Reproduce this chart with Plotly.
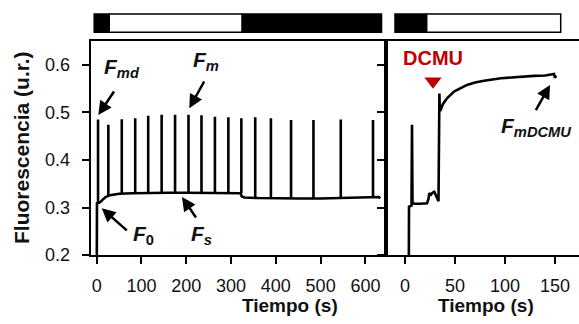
import plotly.graph_objects as go

W, H = 579, 324
FONT = "Liberation Sans"

# ---------------- data ----------------
# Left panel: baseline trace (time s, fluorescence)
base_t = [0, 0.6, 5, 10, 15, 20, 30, 50, 80, 120, 160, 200, 240, 280, 300, 321,
          324, 330, 360, 400, 450, 500, 550, 600, 625, 630, 633]
base_v = [0.10, 0.309, 0.310, 0.313, 0.318, 0.322, 0.326, 0.329, 0.330, 0.331, 0.331,
          0.331, 0.331, 0.331, 0.330, 0.330, 0.323, 0.321, 0.320, 0.319, 0.319, 0.319,
          0.320, 0.320, 0.321, 0.322, 0.319]
# saturating pulses (left panel)
spike_t = [3, 26, 56, 86, 115, 145, 175, 205, 234, 264, 294, 323, 354, 389, 434, 484, 545, 617]
spike_top = [0.485, 0.474, 0.486, 0.488, 0.493, 0.495, 0.495, 0.495, 0.494, 0.491,
             0.490, 0.488, 0.490, 0.488, 0.484, 0.484, 0.485, 0.484]
spike_base = [0.309, 0.324, 0.329, 0.330, 0.331, 0.331, 0.331, 0.331, 0.331, 0.331,
              0.330, 0.330, 0.321, 0.320, 0.319, 0.319, 0.320, 0.320]

# Right panel: DCMU trace
dcmu_t = [3.7, 4.0, 6.5, 7.0, 7.5, 9, 15, 22, 23.5, 24.3, 26, 27.5, 29.3, 31, 32.5, 33.5,
          33.8, 34.1, 34.4, 34.8, 35.5, 38, 42, 49, 55, 62, 70, 79, 96, 112, 129, 140,
          146, 149, 150, 151]
dcmu_v = [0.10, 0.302, 0.304, 0.474, 0.310, 0.308, 0.308, 0.309, 0.318, 0.330, 0.327,
          0.331, 0.333, 0.323, 0.318, 0.313, 0.42, 0.47, 0.540, 0.505, 0.505, 0.518,
          0.530, 0.544, 0.551, 0.558, 0.563, 0.567, 0.572, 0.575, 0.577, 0.578, 0.579,
          0.581, 0.573, 0.578]
dcmu_add_t = 28          # DCMU addition time (s)
dcmu_marker_v = 0.566

# light regime bars: (start, end, is_dark)
left_bar = [(-5.6, 28, True), (28, 325, False), (325, 636, True)]
right_bar = [(-10, 21.7, True), (21.7, 155.7, False)]

left_ticks = [0, 100, 200, 300, 400, 500, 600]
right_ticks = [0, 50, 100, 150]
y_ticks = [0.2, 0.3, 0.4, 0.5, 0.6]
y_tick_text = ["0.2", "0.3", "0.4", "0.5", "0.6"]

# ---------------- figure ----------------
fig = go.Figure()

LW = 2.6
fig.add_trace(go.Scatter(x=base_t, y=base_v, mode="lines",
                         line=dict(color="black", width=LW), xaxis="x", yaxis="y",
                         showlegend=False))
sx, sy = [], []
for t, top, b in zip(spike_t, spike_top, spike_base):
    sx += [t, t, None]
    sy += [b, top, None]
fig.add_trace(go.Scatter(x=sx, y=sy, mode="lines",
                         line=dict(color="black", width=LW), xaxis="x", yaxis="y",
                         showlegend=False))
fig.add_trace(go.Scatter(x=dcmu_t, y=dcmu_v, mode="lines",
                         line=dict(color="black", width=LW), xaxis="x2", yaxis="y2",
                         showlegend=False))
fig.add_trace(go.Scatter(x=[dcmu_add_t], y=[dcmu_marker_v], mode="markers",
                         marker=dict(symbol="triangle-down", size=15, color="#C00000"),
                         xaxis="x2", yaxis="y2", showlegend=False))

x1_dom = [90.7 / W, 386 / W]
x2_dom = [386 / W, 1.0]
y_dom = [1 - 255 / H, 1 - 41 / H]

axis_common = dict(showline=True, linewidth=2, linecolor="black", ticks="outside",
                   ticklen=7, tickwidth=2, tickcolor="black", showgrid=False,
                   zeroline=False, tickfont=dict(family=FONT, size=18, color="#111"),
                   automargin=False)

fig.update_layout(
    width=W, height=H, margin=dict(l=0, r=0, t=0, b=0),
    paper_bgcolor="white", plot_bgcolor="white",
    xaxis=dict(domain=x1_dom, range=[-13.4, 646], tickvals=left_ticks, mirror=True,
               anchor="y", ticklabelstandoff=6, **axis_common),
    yaxis=dict(domain=y_dom, range=[0.2, 0.6505], tickvals=y_ticks, ticktext=y_tick_text,
               mirror=True, anchor="x", ticklabelstandoff=8, **axis_common),
    xaxis2=dict(domain=x2_dom, range=[-19, 174], tickvals=right_ticks, mirror=True,
                anchor="y2", ticklabelstandoff=6, **axis_common),
    yaxis2=dict(domain=y_dom, range=[0.2, 0.6505], tickvals=y_ticks, showticklabels=False,
                anchor="x2", mirror=False, **axis_common),
)

# light regime bars
bar_y0, bar_y1 = 1 - 32.3 / H, 1 - 14 / H
shapes = []
for xref, bar in (("x", left_bar), ("x2", right_bar)):
    for s, e, dark in bar:
        shapes.append(dict(type="rect", xref=xref, yref="paper", x0=s, x1=e,
                           y0=bar_y0, y1=bar_y1, fillcolor="black" if dark else "white",
                           line=dict(color="black", width=1.5), layer="above"))
fig.update_layout(shapes=shapes)

ann = []
def px(x): return x / W
def py(y): return 1 - y / H

# axis titles
ann.append(dict(text="<b>Fluorescencia (u.r.)</b>", x=px(21), y=py(148), xref="paper",
                yref="paper", showarrow=False, textangle=-90, xanchor="center",
                yanchor="middle", font=dict(family=FONT, size=21, color="#111")))
for cx in (290, 486):
    ann.append(dict(text="<b>Tiempo (s)</b>", x=px(cx), y=py(305), xref="paper",
                    yref="paper", showarrow=False, xanchor="center", yanchor="middle",
                    font=dict(family=FONT, size=19, color="#111")))
# DCMU
ann.append(dict(text="<b>DCMU</b>", x=px(433), y=py(58), xref="paper", yref="paper",
                showarrow=False, xanchor="center", yanchor="middle",
                font=dict(family=FONT, size=20, color="#C00000")))

# labels
lab_font = dict(family=FONT, size=21, color="#111")
labels = [("<b><i>F</i><sub><i>md</i></sub></b>", 102, 68),
          ("<b><i>F</i><sub><i>m</i></sub></b>", 191, 61),
          ("<b><i>F</i><sub>0</sub></b>", 130.5, 235),
          ("<b><i>F</i><sub><i>s</i></sub></b>", 189, 235),
          ("<b><i>F</i><sub><i>mDCMU</i></sub></b>", 499, 127)]
for txt, x, y in labels:
    ann.append(dict(text=txt, x=px(x), y=py(y), xref="paper", yref="paper",
                    xanchor="left", yanchor="middle", showarrow=False, font=lab_font))

# arrows (head x,y ; tail offset)
arrows = [(98.3, 115, 16.7, -25), (189.3, 108.3, 15.7, -28.3),
          (101.7, 208.3, 26.6, 23.4), (182, 197, 15, 22), (550, 85, -15, 26.7)]
for hx, hy, ax, ay in arrows:
    ann.append(dict(text="", x=px(hx), y=py(hy), xref="paper", yref="paper",
                    ax=ax, ay=ay, showarrow=True, arrowhead=2, arrowsize=1.1,
                    arrowwidth=2.5, arrowcolor="black", standoff=0))
fig.update_layout(annotations=ann)

fig.write_html("out.html")
